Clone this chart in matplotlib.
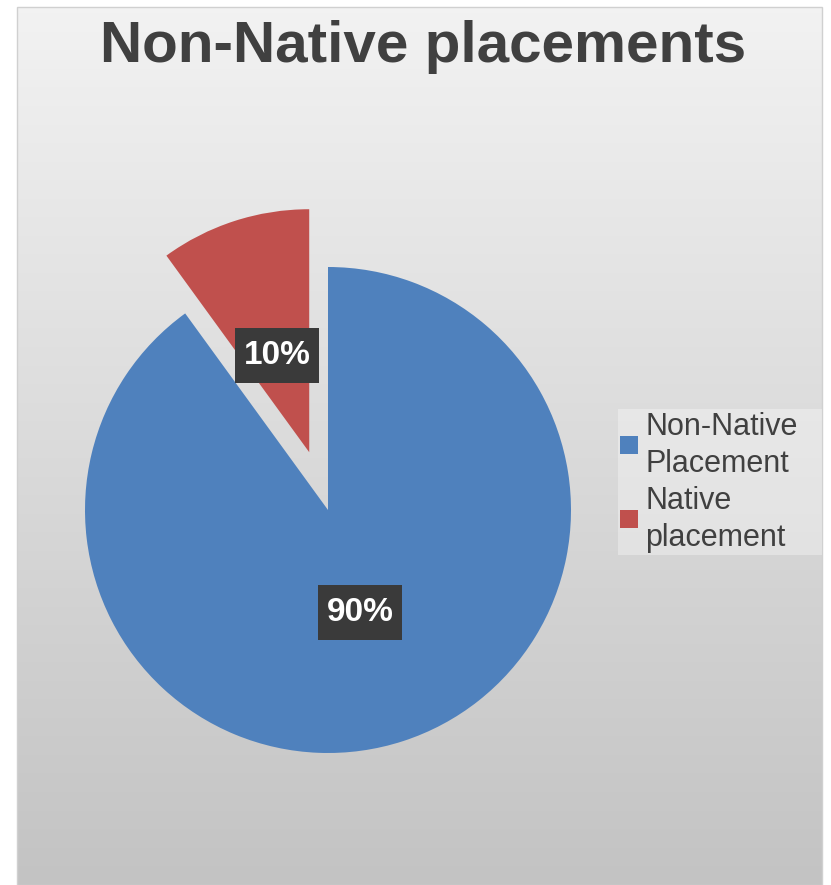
import numpy as np
import matplotlib
matplotlib.use("Agg")
import matplotlib.pyplot as plt
from matplotlib.patches import Rectangle, Patch
from matplotlib.path import Path
from matplotlib.legend_handler import HandlerBase

# ---- data ----
title = "Non-Native placements"
categories = ["Non-Native\nPlacement", "Native\nplacement"]
values = [90, 10]
colors = ["#4f81bd", "#c0504d"]
explode = [0.0, 0.25]

plt.rcParams['font.family'] = ['Liberation Sans', 'DejaVu Sans']

W, H = 831, 885
fig = plt.figure(figsize=(W / 100, H / 100), dpi=100)
fig.patch.set_facecolor("white")

# background gradient axes (pixel coordinates)
bg = fig.add_axes([0, 0, 1, 1])
bg.set_xlim(0, W)
bg.set_ylim(H, 0)
bg.axis("off")
x0, x1, y0, y1 = 17, 822, 7, 885
grad = np.linspace(0.95, 0.765, 256).reshape(-1, 1)
bg.imshow(np.dstack([grad, grad, grad]), extent=[x0, x1, y1, y0], aspect="auto",
          interpolation="bicubic", zorder=0)
bg.add_patch(Rectangle((x0, y0), x1 - x0, y1 - y0, fill=False, edgecolor="#d0d0d0",
                       linewidth=1.0, zorder=1))
# legend background panel
bg.add_patch(Rectangle((618, 409), 204, 146, facecolor="white", alpha=0.33,
                       edgecolor="none", zorder=1))


def label_box(x0, y0, width, height, mutation_size):
    px = 0.26 * mutation_size
    py = 0.36 * mutation_size
    xa, xb = x0 - px, x0 + width + px
    ya, yb = y0 - py, y0 + height + py
    return Path([(xa, ya), (xb, ya), (xb, yb), (xa, yb), (xa, ya)],
                [Path.MOVETO, Path.LINETO, Path.LINETO, Path.LINETO, Path.CLOSEPOLY])


# pie axes: center at pixel (328, 510), radius 243 px
cx, cy, R = 328, 510, 243
ax = fig.add_axes([0, 0, 1, 1])
ax.patch.set_alpha(0)
wedges, texts, autotexts = ax.pie(
    values, colors=colors, explode=explode, startangle=90, counterclock=False,
    autopct="%d%%", pctdistance=0.43, radius=1.0,
    textprops=dict(color="white", fontsize=24, fontweight="bold"),
    wedgeprops=dict(linewidth=0),
)
for t in autotexts:
    xx, yy = t.get_position()
    t.set_position((xx, yy - 3 / R))
    t.set_bbox(dict(boxstyle=label_box, facecolor="#3a3a3a", edgecolor="none"))
ax.set_xlim((0 - cx) / R, (W - cx) / R)
ax.set_ylim(-(H - cy) / R, cy / R)
ax.set_aspect("auto")
ax.axis("off")

# title
fig.text(423 / W, 1 - 62 / H, title, ha="center", va="baseline", fontsize=42,
         fontweight="bold", color="#404040")


class SquareHandler(HandlerBase):
    def __init__(self, size, yoff=0.0, **kw):
        super().__init__(**kw)
        self.size = size
        self.yoff = yoff

    def create_artists(self, legend, orig_handle, xdescent, ydescent, width, height,
                       fontsize, trans):
        s = self.size
        r = Rectangle((-xdescent + (width - s) / 2, -ydescent + (height - s) / 2 + self.yoff),
                      s, s, facecolor=orig_handle.get_facecolor(), edgecolor="none",
                      transform=trans)
        return [r]


# legend
handles = [Patch(facecolor=c, edgecolor="none") for c in colors]
leg = fig.legend(handles, categories, loc="upper left",
                 bbox_to_anchor=(620 / W, 1 - 412 / H), bbox_transform=fig.transFigure,
                 fontsize=22, frameon=False, borderpad=0,
                 handlelength=0.59, handleheight=2.0, handletextpad=0.23,
                 labelspacing=0.22, borderaxespad=0,
                 handler_map={Patch: SquareHandler(13.0, yoff=2.0)})
for t in leg.get_texts():
    t.set_color("#404040")
    t.set_linespacing(1.32)

fig.savefig("out.png", dpi=100)
